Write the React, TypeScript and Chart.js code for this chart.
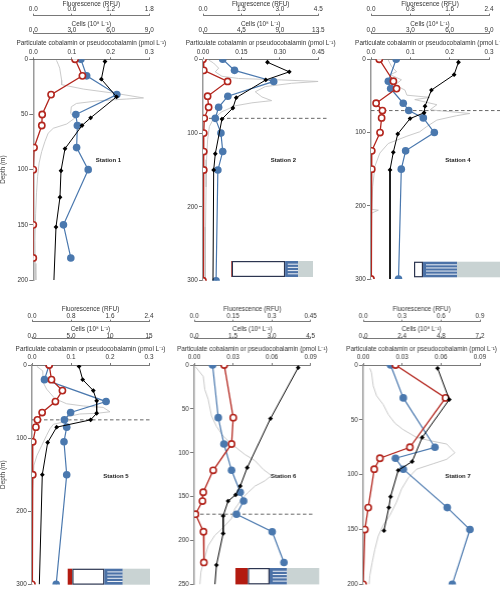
import React, { useEffect, useRef } from "react";
import { Chart, registerables } from "chart.js";

Chart.register(...registerables);

const FONT_FAMILY = "'Liberation Sans', Arial, Helvetica, sans-serif";
const TEXT_COLOR = "#333333";
const AXIS_COLOR = "#555555";

const FLUOR_TITLE = "Fluorescence (RFU)";
const CELLS_TITLE = "Cells (10⁸ L⁻¹)";
const PART_TITLE = "Particulate cobalamin or pseudocobalamin (pmol L⁻¹)";
const DEPTH_TITLE = "Depth (m)";

// ---------------- Station 1 ----------------
const st1Name = "Station 1";
const st1DepthTicks = [0, 50, 100, 150, 200];
const st1FluorTicks = [0, 0.6, 1.2, 1.8];
const st1FluorLabels = ["0.0", "0.6", "1.2", "1.8"];
const st1CellTicks = [0, 3, 6, 9];
const st1CellLabels = ["0.0", "3.0", "6.0", "9.0"];
const st1PartTicks = [0, 0.1, 0.2, 0.3];
const st1PartLabels = ["0.0", "0.1", "0.2", "0.3"];
const st1CblDepth = [0, 15, 32, 50, 60, 80, 100, 150, 180];
const st1Cbl = [0.123, 0.138, 0.216, 0.11, 0.114, 0.112, 0.142, 0.078, 0.097];
const st1PcblDepth = [0, 15, 32, 50, 60, 80, 100, 150, 180];
const st1Pcbl = [0.108, 0.127, 0.046, 0.023, 0.022, 0.002, 0.0, 0.0, 0.0];
const st1CellDepth = [2, 18, 34, 53, 60, 81, 101, 125, 152, 200];
const st1Cells = [5.56, 5.28, 6.46, 4.45, 3.78, 2.46, 2.15, 2.07, 1.76, 1.6];
const st1FluorDepth = [1, 5, 8, 19, 23, 27, 31, 35, 36, 37.5, 40, 43, 49, 53, 58.6, 62.5, 67, 74.6, 83.7, 94, 106, 121, 140, 164, 185, 200];
const st1Fluor = [0.36, 0.39, 0.41, 0.44, 0.44, 0.78, 1.29, 1.71, 1.45, 1.03, 0.67, 0.59, 0.58, 0.65, 0.52, 0.31, 0.23, 0.18, 0.13, 0.09, 0.067, 0.05, 0.036, 0.026, 0.03, 0.04];

// ---------------- Station 2 ----------------
const st2Name = "Station 2";
const st2DepthTicks = [0, 100, 200, 300];
const st2FluorTicks = [0, 1.5, 3.0, 4.5];
const st2FluorLabels = ["0.0", "1.5", "3.0", "4.5"];
const st2CellTicks = [0, 4.5, 9, 13.5];
const st2CellLabels = ["0.0", "4.5", "9.0", "13.5"];
const st2PartTicks = [0, 0.15, 0.3, 0.45];
const st2PartLabels = ["0.00", "0.15", "0.30", "0.45"];
const st2CblDepth = [0, 15, 30, 50, 65, 80, 100, 125, 150, 300];
const st2Cbl = [0.077, 0.123, 0.276, 0.097, 0.061, 0.048, 0.07, 0.077, 0.058, 0.051];
const st2PcblDepth = [0, 15, 30, 50, 65, 80, 100, 125, 150, 300];
const st2Pcbl = [0.0, 0.003, 0.096, 0.018, 0.022, 0.005, 0.003, 0.003, 0.003, 0.0];
const st2CellDepth = [4, 17, 28, 52, 66, 81, 128, 150, 300];
const st2Cells = [7.55, 10.1, 7.35, 3.89, 3.5, 2.22, 1.44, 1.25, 1.17];
const st2FluorDepth = [1, 5, 12, 17, 23, 26, 28, 30, 32.5, 37, 44, 51, 56, 59, 63, 71, 80, 91, 109, 136, 173, 227, 300];
const st2Fluor = [0.22, 0.41, 0.61, 0.48, 0.74, 1.39, 3.07, 4.5, 3.46, 2.43, 2.04, 2.3, 2.68, 1.91, 1.26, 0.74, 0.42, 0.25, 0.18, 0.14, 0.12, 0.1, 0.09];
const st2Mld = 80;
const st2Box = [1, 65, 16, 18];

// ---------------- Station 4 ----------------
const st4Name = "Station 4";
const st4DepthTicks = [0, 100, 200, 300];
const st4FluorTicks = [0, 0.8, 1.6, 2.4];
const st4FluorLabels = ["0.0", "0.8", "1.6", "2.4"];
const st4CellTicks = [0, 3, 6, 9];
const st4CellLabels = ["0.0", "3.0", "6.0", "9.0"];
const st4PartTicks = [0, 0.1, 0.2, 0.3];
const st4PartLabels = ["0.0", "0.1", "0.2", "0.3"];
const st4CblDepth = [0, 30, 40, 60, 70, 80, 100, 125, 150, 300];
const st4Cbl = [0.064, 0.044, 0.05, 0.082, 0.096, 0.133, 0.161, 0.088, 0.077, 0.07];
const st4PcblDepth = [0, 30, 40, 60, 70, 80, 100, 125, 150, 300];
const st4Pcbl = [0.021, 0.057, 0.065, 0.013, 0.029, 0.027, 0.023, 0.002, 0.002, 0.0];
const st4CellDepth = [4, 21, 42, 64, 73, 81, 102, 127, 151, 300];
const st4Cells = [6.67, 6.34, 4.61, 4.12, 4.05, 2.98, 2.04, 1.7, 1.45, 1.45];
const st4FluorDepth = [1, 10, 17, 21, 28, 35, 42, 49, 52, 55, 62, 69, 74, 77, 83, 92, 99, 105, 115, 128, 146, 174, 205, 206, 210, 246, 300];
const st4Fluor = [0.35, 0.42, 0.52, 0.39, 0.62, 0.49, 0.69, 0.73, 1.2, 0.89, 1.34, 1.2, 2.01, 1.74, 1.34, 1.13, 0.99, 0.73, 0.35, 0.18, 0.08, 0.034, 0.02, 0.15, 0.014, 0.007, 0.0];
const st4Mld = 70;
const st4Box = [0, 10.5, 39.5, 50];

// ---------------- Station 5 ----------------
const st5Name = "Station 5";
const st5DepthTicks = [0, 100, 200, 300];
const st5FluorTicks = [0, 0.8, 1.6, 2.4];
const st5FluorLabels = ["0.0", "0.8", "1.6", "2.4"];
const st5CellTicks = [0, 5, 10, 15];
const st5CellLabels = ["0.0", "5.0", "10", "15"];
const st5PartTicks = [0, 0.1, 0.2, 0.3];
const st5PartLabels = ["0.0", "0.1", "0.2", "0.3"];
const st5CblDepth = [0, 20, 50, 65, 75, 85, 105, 150, 300];
const st5Cbl = [0.044, 0.032, 0.19, 0.099, 0.083, 0.089, 0.082, 0.089, 0.062];
const st5PcblDepth = [0, 20, 35, 50, 65, 75, 85, 105, 150, 300];
const st5Pcbl = [0.044, 0.05, 0.078, 0.06, 0.026, 0.014, 0.01, 0.002, 0.002, 0.0];
const st5CellDepth = [2, 20, 35, 49, 66, 75, 85, 106, 150, 300];
const st5Cells = [6.03, 6.5, 7.86, 8.29, 8.29, 7.52, 3.16, 2.01, 1.32, 0.94];
const st5FluorDepth = [2, 8, 24, 33, 46, 53, 56, 58, 64, 66, 67, 71, 76, 81, 87, 96, 110, 124, 137, 169, 300];
const st5Fluor = [0.1, 0.22, 0.23, 0.3, 0.47, 0.71, 1.05, 1.46, 1.6, 1.33, 0.98, 0.71, 0.78, 0.44, 0.37, 0.3, 0.2, 0.1, 0.04, 0.014, 0.007];
const st5Mld = 75;
const st5Box = [5.6, 38.9, 22.4, 33.1];

// ---------------- Station 6 ----------------
const st6Name = "Station 6";
const st6DepthTicks = [0, 50, 100, 150, 200, 250];
const st6FluorTicks = [0, 0.15, 0.3, 0.45];
const st6FluorLabels = ["0.0", "0.15", "0.3", "0.45"];
const st6CellTicks = [0, 1.5, 3.0, 4.5];
const st6CellLabels = ["0.0", "1.5", "3.0", "4.5"];
const st6PartTicks = [0, 0.03, 0.06, 0.09];
const st6PartLabels = ["0.00", "0.03", "0.06", "0.09"];
const st6CblDepth = [0, 60, 90, 120, 145, 155, 170, 190, 225];
const st6Cbl = [0.0142, 0.0186, 0.023, 0.0289, 0.0356, 0.0382, 0.0327, 0.0603, 0.0694];
const st6PcblDepth = [0, 60, 90, 120, 145, 155, 170, 190, 225];
const st6Pcbl = [0.0232, 0.0302, 0.0289, 0.0147, 0.007, 0.0064, 0.001, 0.0072, 0.0075];
const st6CellDepth = [3, 61, 117, 138, 148, 155, 172, 192, 228, 250];
const st6Cells = [4.02, 2.95, 2.05, 1.78, 1.6, 1.31, 1.12, 1.12, 0.86, 0.8];
const st6FluorDepth = [2, 13, 28, 39, 58, 70, 81, 90, 102, 109, 119, 126, 132, 138, 145, 153, 164, 175, 187, 194, 206, 221, 236, 250];
const st6Fluor = [0.005, 0.035, 0.041, 0.054, 0.067, 0.086, 0.112, 0.144, 0.196, 0.235, 0.267, 0.299, 0.273, 0.235, 0.209, 0.183, 0.157, 0.144, 0.106, 0.08, 0.054, 0.039, 0.026, 0.022];
const st6Mld = 170;
const st6Box = [14.8, 26, 20.8, 38.4];

// ---------------- Station 7 ----------------
const st7Name = "Station 7";
const st7DepthTicks = [0, 50, 100, 150, 200];
const st7FluorTicks = [0, 0.3, 0.6, 0.9];
const st7FluorLabels = ["0.0", "0.3", "0.6", "0.9"];
const st7CellTicks = [0, 2.4, 4.8, 7.2];
const st7CellLabels = ["0.0", "2.4", "4.8", "7.2"];
const st7PartTicks = [0, 0.03, 0.06, 0.09];
const st7PartLabels = ["0.00", "0.03", "0.06", "0.09"];
const st7CblDepth = [0, 30, 75, 85, 95, 130, 150, 200];
const st7Cbl = [0.0211, 0.0309, 0.0553, 0.0249, 0.0309, 0.0648, 0.0823, 0.0687];
const st7PcblDepth = [0, 30, 75, 85, 95, 130, 150, 200];
const st7Pcbl = [0.0249, 0.0635, 0.036, 0.0129, 0.0085, 0.0039, 0.0013, 0.0];
const st7CellDepth = [3, 31.5, 66, 88, 96, 120, 130, 151];
const st7Cells = [4.59, 5.31, 3.64, 3.02, 2.16, 1.69, 1.58, 1.28];
const st7FluorDepth = [3, 7, 19, 28, 36, 45, 53, 59, 66, 69, 72, 80, 86, 90, 95, 103, 113, 125, 137, 146, 156, 168, 180, 192, 200];
const st7Fluor = [0.051, 0.064, 0.077, 0.103, 0.154, 0.193, 0.244, 0.309, 0.411, 0.514, 0.643, 0.707, 0.643, 0.54, 0.411, 0.347, 0.296, 0.257, 0.206, 0.154, 0.116, 0.09, 0.069, 0.051, 0.046];

// ---------------- Panel layout ----------------
type BoxGeom = { rightOff: number; bottomOff: number; w: number; h: number };
type AxisRow = {
  // [height, tick padding, title padding] for particulate, cells, fluorescence axes
  part: [number, number, number];
  cells: [number, number, number];
  fluor: [number, number, number];
};
type Panel = {
  name: string;
  cl: number; ct: number; cw: number; ch: number;
  yW: number; padTop: number; padBottom: number; padRight: number;
  axes: AxisRow;
  depthTicks: number[]; depthTitle: boolean;
  fluorTicks: number[]; fluorLabels: string[];
  cellTicks: number[]; cellLabels: string[];
  partTicks: number[]; partLabels: string[];
  cblDepth: number[]; cbl: number[];
  pcblDepth: number[]; pcbl: number[];
  cellDepth: number[]; cells: number[];
  fluorDepth: number[]; fluor: number[];
  mld: number | null; mldExt: number;
  box: number[] | null; boxGeom: BoxGeom | null;
  labelFx: number; labelFy: number;
};

const TOP_AXES: AxisRow = { part: [26, 1.48, 6.48], cells: [17.6, -2.3, 5.08], fluor: [15.7, 0.7, 0.4] };
const BOT_AXES: AxisRow = { part: [26.3, 2.48, 7.08], cells: [17, -2.82, 4.08], fluor: [15.8, 0.18, -0.1] };

const TOP = { ct: 0, ch: 290, padTop: 0 };
const BOT = { ct: 290, ch: 300, padTop: 15.9, padBottom: 4.3 };

const panels: Panel[] = [
  {
    name: st1Name, cl: 0, ct: TOP.ct, cw: 175, ch: TOP.ch, yW: 33.3, padTop: TOP.padTop, padBottom: 10, padRight: 25.7, axes: TOP_AXES,
    depthTicks: st1DepthTicks, depthTitle: true,
    fluorTicks: st1FluorTicks, fluorLabels: st1FluorLabels, cellTicks: st1CellTicks, cellLabels: st1CellLabels,
    partTicks: st1PartTicks, partLabels: st1PartLabels,
    cblDepth: st1CblDepth, cbl: st1Cbl, pcblDepth: st1PcblDepth, pcbl: st1Pcbl,
    cellDepth: st1CellDepth, cells: st1Cells, fluorDepth: st1FluorDepth, fluor: st1Fluor,
    mld: null, mldExt: 0, box: null, boxGeom: null, labelFx: 0.648, labelFy: 0.456,
  },
  {
    name: st2Name, cl: 167.7, ct: TOP.ct, cw: 172.3, ch: TOP.ch, yW: 35, padTop: TOP.padTop, padBottom: 9.3, padRight: 21.7, axes: TOP_AXES,
    depthTicks: st2DepthTicks, depthTitle: false,
    fluorTicks: st2FluorTicks, fluorLabels: st2FluorLabels, cellTicks: st2CellTicks, cellLabels: st2CellLabels,
    partTicks: st2PartTicks, partLabels: st2PartLabels,
    cblDepth: st2CblDepth, cbl: st2Cbl, pcblDepth: st2PcblDepth, pcbl: st2Pcbl,
    cellDepth: st2CellDepth, cells: st2Cells, fluorDepth: st2FluorDepth, fluor: st2Fluor,
    mld: st2Mld, mldExt: 8.4, box: st2Box, boxGeom: { rightOff: -5.3, bottomOff: -3.7, w: 82, h: 16 },
    labelFx: 0.697, labelFy: 0.455,
  },
  {
    name: st4Name, cl: 336, ct: TOP.ct, cw: 164, ch: TOP.ch, yW: 35, padTop: TOP.padTop, padBottom: 11, padRight: 11, axes: TOP_AXES,
    depthTicks: st4DepthTicks, depthTitle: false,
    fluorTicks: st4FluorTicks, fluorLabels: st4FluorLabels, cellTicks: st4CellTicks, cellLabels: st4CellLabels,
    partTicks: st4PartTicks, partLabels: st4PartLabels,
    cblDepth: st4CblDepth, cbl: st4Cbl, pcblDepth: st4PcblDepth, pcbl: st4Pcbl,
    cellDepth: st4CellDepth, cells: st4Cells, fluorDepth: st4FluorDepth, fluor: st4Fluor,
    mld: st4Mld, mldExt: 11, box: st4Box, boxGeom: { rightOff: 11, bottomOff: -1.7, w: 86, h: 15.6 },
    labelFx: 0.737, labelFy: 0.459,
  },
  {
    name: st5Name, cl: 0, ct: BOT.ct, cw: 175, ch: BOT.ch, yW: 32, padTop: BOT.padTop, padBottom: BOT.padBottom, padRight: 26, axes: BOT_AXES,
    depthTicks: st5DepthTicks, depthTitle: true,
    fluorTicks: st5FluorTicks, fluorLabels: st5FluorLabels, cellTicks: st5CellTicks, cellLabels: st5CellLabels,
    partTicks: st5PartTicks, partLabels: st5PartLabels,
    cblDepth: st5CblDepth, cbl: st5Cbl, pcblDepth: st5PcblDepth, pcbl: st5Pcbl,
    cellDepth: st5CellDepth, cells: st5Cells, fluorDepth: st5FluorDepth, fluor: st5Fluor,
    mld: st5Mld, mldExt: 1, box: st5Box, boxGeom: { rightOff: 1, bottomOff: 0.3, w: 82.3, h: 16 },
    labelFx: 0.718, labelFy: 0.507,
  },
  {
    name: st6Name, cl: 159.3, ct: BOT.ct, cw: 175.7, ch: BOT.ch, yW: 35, padTop: BOT.padTop, padBottom: BOT.padBottom, padRight: 24.3, axes: BOT_AXES,
    depthTicks: st6DepthTicks, depthTitle: false,
    fluorTicks: st6FluorTicks, fluorLabels: st6FluorLabels, cellTicks: st6CellTicks, cellLabels: st6CellLabels,
    partTicks: st6PartTicks, partLabels: st6PartLabels,
    cblDepth: st6CblDepth, cbl: st6Cbl, pcblDepth: st6PcblDepth, pcbl: st6Pcbl,
    cellDepth: st6CellDepth, cells: st6Cells, fluorDepth: st6FluorDepth, fluor: st6Fluor,
    mld: st6Mld, mldExt: 2.3, box: st6Box, boxGeom: { rightOff: 8.6, bottomOff: 0, w: 83.3, h: 16.4 },
    labelFx: 0.766, labelFy: 0.507,
  },
  {
    name: st7Name, cl: 328.3, ct: BOT.ct, cw: 171.7, ch: BOT.ch, yW: 35, padTop: BOT.padTop, padBottom: BOT.padBottom, padRight: 20, axes: BOT_AXES,
    depthTicks: st7DepthTicks, depthTitle: false,
    fluorTicks: st7FluorTicks, fluorLabels: st7FluorLabels, cellTicks: st7CellTicks, cellLabels: st7CellLabels,
    partTicks: st7PartTicks, partLabels: st7PartLabels,
    cblDepth: st7CblDepth, cbl: st7Cbl, pcblDepth: st7PcblDepth, pcbl: st7Pcbl,
    cellDepth: st7CellDepth, cells: st7Cells, fluorDepth: st7FluorDepth, fluor: st7Fluor,
    mld: null, mldExt: 0, box: null, boxGeom: null, labelFx: 0.811, labelFy: 0.507,
  },
];

const FONT_SIZE = 6.4;
const LINE_H = 1.1;
const FONT = { family: FONT_FAMILY, size: FONT_SIZE, lineHeight: LINE_H };
const BOX_COLORS = ["#b31b11", "#ffffff", "#4c72a7", "#c9d3d3"];

function topScale(ticks: number[], labels: string[], weight: number, height: number, tickPad: number) {
  return {
    type: "linear",
    position: "top",
    min: ticks[0],
    max: ticks[ticks.length - 1],
    weight,
    afterBuildTicks: (s: any) => { s.ticks = ticks.map((v) => ({ value: v })); },
    afterFit: (s: any) => { s.height = height; },
    ticks: {
      autoSkip: false, maxRotation: 0, minRotation: 0,
      font: FONT, color: TEXT_COLOR, padding: tickPad,
      callback: (_v: any, i: number) => labels[i],
    },
    grid: { drawOnChartArea: false, drawTicks: true, tickLength: 2, tickColor: AXIS_COLOR, lineWidth: 0.8 },
    border: { display: true, color: AXIS_COLOR, width: 0.8 },
    title: { display: false },
  };
}

function buildConfig(p: Panel): any {
  const pts = (d: number[], v: number[]) => d.map((y, i) => ({ x: v[i], y }));
  const depthMax = p.depthTicks[p.depthTicks.length - 1];
  const titles: [string, string, number][] = [
    ["xp", PART_TITLE, p.axes.part[2]],
    ["xc", CELLS_TITLE, p.axes.cells[2]],
    ["xf", FLUOR_TITLE, p.axes.fluor[2]],
  ];

  const extras = {
    id: "extras",
    beforeDatasetsDraw(chart: any) {
      if (p.mld == null) return;
      const { ctx, chartArea } = chart;
      const y = chart.scales.y.getPixelForValue(p.mld);
      ctx.save();
      ctx.strokeStyle = "#555";
      ctx.lineWidth = 0.9;
      ctx.setLineDash([3.5, 2.5]);
      ctx.beginPath();
      ctx.moveTo(chartArea.left, y);
      ctx.lineTo(chartArea.right + p.mldExt, y);
      ctx.stroke();
      ctx.restore();
    },
    afterDraw(chart: any) {
      const { ctx, chartArea } = chart;
      ctx.save();
      // titles of the three stacked top axes, drawn at full width
      ctx.fillStyle = TEXT_COLOR;
      ctx.font = `${FONT_SIZE}px ${FONT_FAMILY}`;
      ctx.textAlign = "center";
      ctx.textBaseline = "middle";
      titles.forEach(([id, text, pad]) => {
        const s = chart.scales[id];
        ctx.fillText(text, (s.left + s.right) / 2, s.top + pad + (FONT_SIZE * LINE_H) / 2);
      });
      if (p.box && p.boxGeom) {
        const g = p.boxGeom;
        const x0 = chartArea.right + g.rightOff - g.w;
        const y0 = chartArea.bottom + g.bottomOff - g.h;
        const total = p.box.reduce((a, b) => a + b, 0);
        let x = x0;
        p.box.forEach((part, i) => {
          const w = (part / total) * g.w;
          if (w <= 0) return;
          ctx.fillStyle = BOX_COLORS[i];
          ctx.fillRect(x, y0, w, g.h);
          if (i === 2) {
            ctx.strokeStyle = "#ffffff";
            ctx.lineWidth = 0.9;
            for (let k = 1; k <= 4; k++) {
              const yy = y0 + (g.h * k) / 5;
              ctx.beginPath();
              ctx.moveTo(x + Math.min(3, w * 0.2), yy);
              ctx.lineTo(x + w, yy);
              ctx.stroke();
            }
          }
          if (i === 1) {
            ctx.strokeStyle = "#2c3550";
            ctx.lineWidth = 1.2;
            ctx.strokeRect(x + 0.6, y0 + 0.6, w - 1.2, g.h - 1.2);
          }
          x += w;
        });
      }
      ctx.fillStyle = "#1a1a1a";
      ctx.font = `bold 6px ${FONT_FAMILY}`;
      ctx.textAlign = "center";
      ctx.textBaseline = "middle";
      ctx.fillText(
        p.name,
        chartArea.left + p.labelFx * (chartArea.right - chartArea.left),
        chartArea.top + p.labelFy * (chartArea.bottom - chartArea.top)
      );
      ctx.restore();
    },
  };

  return {
    type: "line",
    data: {
      datasets: [
        {
          label: "Cells",
          data: pts(p.cellDepth, p.cells),
          xAxisID: "xc", yAxisID: "y",
          borderColor: "#000", backgroundColor: "#000",
          borderWidth: 1,
          pointStyle: "rectRot",
          pointRadius: (c: any) => (c.raw && c.raw.y >= depthMax ? 0 : 2.4),
          pointBackgroundColor: "#000", pointBorderColor: "#000", pointBorderWidth: 0,
          order: 0,
        },
        {
          label: "Pseudocobalamin",
          data: pts(p.pcblDepth, p.pcbl),
          xAxisID: "xp", yAxisID: "y",
          borderColor: "#b3261e", backgroundColor: "#ffffff",
          borderWidth: 1.3,
          pointRadius: 3.1, pointBorderWidth: 1.6,
          pointBackgroundColor: "#ffffff", pointBorderColor: "#b3261e",
          order: 1,
        },
        {
          label: "Cobalamin",
          data: pts(p.cblDepth, p.cbl),
          xAxisID: "xp", yAxisID: "y",
          borderColor: "#4a78ae", backgroundColor: "#4a78ae",
          borderWidth: 1.2,
          pointRadius: 3.8, pointBorderWidth: 0,
          pointBackgroundColor: "#4a78ae", pointBorderColor: "#4a78ae",
          order: 2,
        },
        {
          label: "Fluorescence",
          data: pts(p.fluorDepth, p.fluor),
          xAxisID: "xf", yAxisID: "y",
          borderColor: "#c4c4c4", borderWidth: 0.9,
          pointRadius: 0,
          order: 3,
        },
      ],
    },
    options: {
      responsive: false,
      maintainAspectRatio: false,
      animation: false,
      events: [],
      layout: { padding: { left: 0, right: p.padRight, top: p.padTop, bottom: p.padBottom } },
      elements: { line: { tension: 0 } },
      plugins: { legend: { display: false }, tooltip: { enabled: false } },
      scales: {
        y: {
          type: "linear",
          position: "left",
          reverse: true,
          min: 0,
          max: depthMax,
          afterBuildTicks: (s: any) => { s.ticks = p.depthTicks.map((v) => ({ value: v })); },
          afterFit: (s: any) => { s.width = p.yW; },
          ticks: { autoSkip: false, font: FONT, color: TEXT_COLOR, padding: 1.2, callback: (v: any) => String(v) },
          grid: { drawOnChartArea: false, drawTicks: true, tickLength: 4, tickColor: AXIS_COLOR, lineWidth: 0.8 },
          border: { display: true, color: "#9a9a9a", width: 1.5 },
          title: { display: p.depthTitle, text: DEPTH_TITLE, font: FONT, color: TEXT_COLOR, padding: { top: 0, bottom: 0 } },
        },
        xp: topScale(p.partTicks, p.partLabels, 1, p.axes.part[0], p.axes.part[1]),
        xc: topScale(p.cellTicks, p.cellLabels, 2, p.axes.cells[0], p.axes.cells[1]),
        xf: topScale(p.fluorTicks, p.fluorLabels, 3, p.axes.fluor[0], p.axes.fluor[1]),
      },
    },
    plugins: [extras],
  };
}

function PanelChart({ p }: { p: Panel }) {
  const ref = useRef<HTMLCanvasElement | null>(null);
  useEffect(() => {
    if (!ref.current) return;
    const chart = new Chart(ref.current, buildConfig(p));
    return () => chart.destroy();
  }, [p]);
  return (
    <canvas
      ref={ref}
      width={p.cw}
      height={p.ch}
      style={{ position: "absolute", left: p.cl, top: p.ct, width: p.cw, height: p.ch }}
    />
  );
}

export default function App() {
  return (
    <div style={{ position: "absolute", left: 0, top: 0, width: 500, height: 590, background: "#ffffff", overflow: "hidden" }}>
      {panels.map((p) => (
        <PanelChart key={p.name} p={p} />
      ))}
    </div>
  );
}
